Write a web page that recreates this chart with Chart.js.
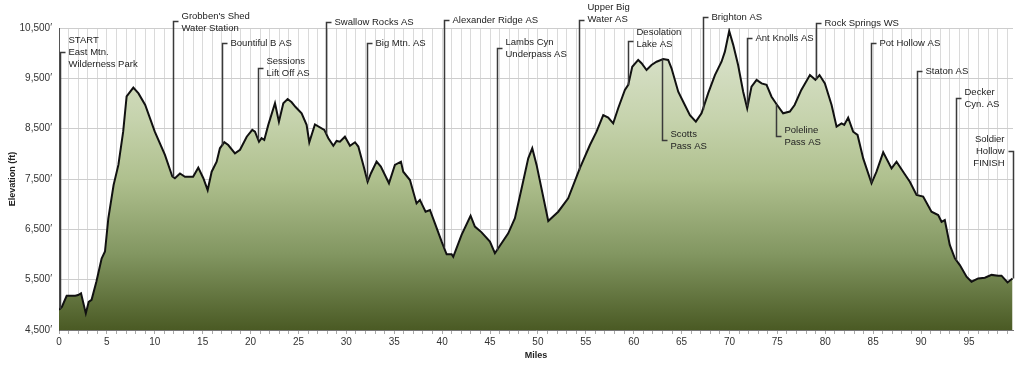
<!DOCTYPE html>
<html><head><meta charset="utf-8">
<script src="https://cdn.jsdelivr.net/npm/chart.js@4/dist/chart.umd.min.js"></script>
<style>html,body{margin:0;padding:0;background:#fff}#wrap{width:1024px;height:368px}</style>
</head><body><div id="wrap"><canvas id="c" width="1024" height="368"></canvas></div>
<script>
// ---- data ----
const miles = [0.0,0.3,0.8,1.7,2.0,2.3,2.8,3.1,3.4,3.9,4.45,4.8,5.15,5.7,6.2,6.7,7.06,7.76,8.3,9.0,10.0,11.06,11.83,12.1,12.63,13.15,14.0,14.54,15.07,15.52,15.94,16.46,16.8,17.26,17.67,18.37,18.9,19.6,20.18,20.46,20.88,21.15,21.43,21.85,22.55,22.96,23.42,23.87,24.29,24.7,25.33,25.85,26.13,26.72,27.7,28.12,28.64,28.98,29.33,29.85,30.38,30.9,31.25,31.77,32.22,32.57,33.16,33.6,34.45,35.07,35.7,35.94,36.64,37.33,37.68,38.27,38.73,39.25,39.95,40.47,40.99,41.16,42.03,42.97,43.42,44.12,44.99,45.51,46.03,46.9,47.6,48.3,48.99,49.41,49.86,51.08,52.12,53.16,54.38,55.43,56.12,56.82,57.34,57.86,58.38,59.08,59.43,59.85,60.47,60.82,61.34,61.86,62.39,63.08,63.6,63.95,64.65,65.17,65.87,66.49,67.08,67.78,68.48,69.17,69.52,69.97,70.39,70.9,71.43,71.85,72.3,72.83,73.35,73.87,74.39,74.9,75.6,76.3,76.8,77.5,78.4,78.97,79.4,79.96,80.66,81.18,81.7,81.98,82.39,82.91,83.37,83.96,84.83,85.35,86.05,86.92,87.44,88.13,88.83,89.53,90.22,91.09,91.79,92.14,92.48,93.0,93.53,94.05,94.75,95.27,95.96,96.66,97.36,98.05,98.4,99.03,99.55];
const elevations = [4900,4960,5180,5180,5195,5230,4830,5060,5100,5460,5920,6060,6720,7380,7780,8440,9140,9315,9200,8970,8440,7980,7550,7515,7610,7545,7545,7725,7515,7280,7645,7845,8110,8230,8175,8010,8080,8340,8475,8440,8240,8310,8275,8575,9005,8640,9005,9090,9025,8930,8805,8575,8230,8585,8475,8310,8160,8255,8240,8340,8160,8230,8145,7780,7445,7615,7845,7745,7415,7780,7845,7645,7480,7015,7085,6850,6885,6620,6255,6005,6005,5955,6390,6770,6555,6440,6255,6025,6175,6420,6720,7315,7910,8110,7780,6665,6850,7115,7715,8175,8440,8770,8720,8605,8905,9270,9370,9730,9865,9800,9665,9765,9830,9885,9865,9700,9235,9035,8770,8640,8805,9205,9565,9830,10030,10440,10165,9765,9235,8905,9335,9470,9400,9370,9135,8990,8805,8840,8970,9270,9565,9470,9565,9400,8970,8540,8605,8575,8720,8440,8375,7910,7415,7645,8030,7710,7845,7645,7445,7185,7150,6850,6785,6650,6685,6190,5925,5790,5560,5460,5525,5540,5595,5580,5580,5445,5525];
const yTickValues = [4500,5500,6500,7500,8500,9500,10500];
const xTickStep = 5;
const stationNames = [
  ["START","East Mtn.","Wilderness Park"],
  ["Grobben's Shed","Water Station"],
  ["Bountiful B AS"],
  ["Sessions","Lift Off AS"],
  ["Swallow Rocks AS"],
  ["Big Mtn. AS"],
  ["Alexander Ridge AS"],
  ["Lambs Cyn","Underpass AS"],
  ["Upper Big","Water AS"],
  ["Desolation","Lake AS"],
  ["Scotts","Pass AS"],
  ["Brighton AS"],
  ["Ant Knolls AS"],
  ["Poleline","Pass AS"],
  ["Rock Springs WS"],
  ["Pot Hollow AS"],
  ["Staton AS"],
  ["Decker","Cyn. AS"],
  ["Soldier","Hollow","FINISH"]
];
const stationMiles = [0.1,11.9,17.0,20.8,27.9,32.2,40.2,45.7,54.3,59.4,63.0,67.2,71.8,74.9,79.0,84.8,89.6,93.7,99.55];

// ---- label layout (elevation of leader tick, elevation of text centre, side) ----
const labelLayout = [
  [10024,10024,'r'],[10640,10620,'r'],[10203,10203,'r'],[9706,9716,'r'],[10620,10620,'r'],
  [10203,10203,'r'],[10660,10660,'r'],[10103,10103,'r'],[10660,10790,'r'],[10243,10302,'r'],
  [8275,8265,'r'],[10720,10720,'r'],[10302,10302,'r'],[8355,8345,'r'],[10600,10600,'r'],
  [10203,10203,'r'],[9646,9646,'r'],[9110,9110,'r'],[8057,8057,'l']
];

function elevAt(m){
  for(let i=1;i<miles.length;i++){
    if(m<=miles[i]){const t=(m-miles[i-1])/(miles[i]-miles[i-1]);return elevations[i-1]+t*(elevations[i]-elevations[i-1]);}
  }
  return elevations[elevations.length-1];
}

const labelFont = '9.5px "Liberation Sans", Arial, sans-serif';
const stationPlugin = {
  id:'stations',
  afterDatasetsDraw(chart){
    const c=chart.ctx, xs=chart.scales.x, ys=chart.scales.y;
    c.save();
    c.strokeStyle='#3a3a3a'; c.lineWidth=1.5; c.fillStyle='#222';
    c.font=labelFont; c.textBaseline='middle';
    stationNames.forEach((lines,i)=>{
      const m=stationMiles[i], L=labelLayout[i];
      const px=Math.round(xs.getPixelForValue(m))+0.5;
      const py0=ys.getPixelForValue(elevAt(m));
      const pt=Math.round(ys.getPixelForValue(L[0]))+0.5;
      const pc=ys.getPixelForValue(L[1]);
      c.beginPath(); c.moveTo(px,py0); c.lineTo(px,pt);
      if(L[2]==='r'){c.lineTo(px+5,pt);} else {c.lineTo(px-5,pt);}
      c.stroke();
      const lh=12, n=lines.length;
      lines.forEach((s,k)=>{
        const ty=pc+(k-(n-1)/2)*lh;
        if(L[2]==='r'){c.textAlign='left'; c.fillText(s,px+8,ty);}
        else {c.textAlign='right'; c.fillText(s,px-9,ty);}
      });
    });
    c.restore();
  }
};

const ctx=document.getElementById('c').getContext('2d');
new Chart(ctx,{
  type:'line',
  data:{datasets:[{
    data:miles.map((m,i)=>({x:m,y:elevations[i]})),
    borderColor:'#111',borderWidth:2,pointRadius:0,tension:0,fill:'start',
    backgroundColor:(cx)=>{
      const ch=cx.chart, ca=ch.chartArea; if(!ca) return '#a0b07a';
      const g=ch.ctx.createLinearGradient(0,ca.top,0,ca.bottom);
      g.addColorStop(0,'#dfe6d3');
      g.addColorStop(0.3,'#c6d3ad');
      g.addColorStop(0.5,'#afc08e');
      g.addColorStop(0.75,'#829661');
      g.addColorStop(1,'#4a5a24');
      return g;
    }
  }]},
  options:{
    responsive:false,animation:false,
    layout:{padding:{top:28,right:11,left:0,bottom:0}},
    plugins:{legend:{display:false},tooltip:{enabled:false}},
    scales:{
      x:{type:'linear',min:0,max:99.6,
        ticks:{stepSize:1,autoSkip:false,includeBounds:false,maxRotation:0,
          callback:v=>(v%xTickStep===0?String(v):''),
          font:{family:'"Liberation Sans", Arial, sans-serif',size:10},color:'#333',padding:2},
        grid:{color:'#dadada',tickLength:4,tickColor:'#aaa'},
        border:{color:'#777'},
        title:{display:true,text:'Miles',font:{family:'"Liberation Sans", Arial, sans-serif',size:9,weight:'bold'},color:'#222',padding:{top:7,bottom:7}},
        afterFit:s=>{s.height=38;}
      },
      y:{min:4500,max:10500,
        afterBuildTicks:s=>{s.ticks=yTickValues.map(v=>({value:v}));},
        ticks:{callback:v=>v.toLocaleString('en-US')+'\u2032',
          font:{family:'"Liberation Sans", Arial, sans-serif',size:10},color:'#333',padding:7},
        grid:{color:'#cdcdcd',drawTicks:false},
        border:{color:'#555'},
        title:{display:true,text:'Elevation (ft)',font:{family:'"Liberation Sans", Arial, sans-serif',size:9,weight:'bold'},color:'#222',padding:{top:7,bottom:7}},
        afterFit:s=>{s.width=59;}
      }
    }
  },
  plugins:[stationPlugin]
});
</script></body></html>
